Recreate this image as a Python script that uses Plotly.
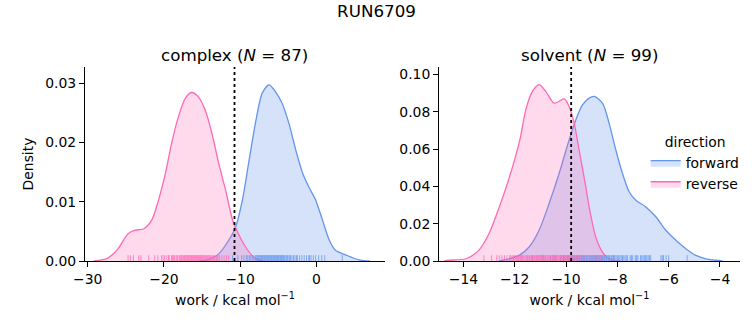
import plotly.graph_objects as go

# ---------------- data ----------------
# KDE curves (x in kcal/mol, density)
complex_fwd_x = [-15.4, -14.6, -13.7, -12.8, -11.5, -10.6, -9.7, -8.9, -8.0, -7.1, -6.2, -5.4, -4.5,
                 -3.6, -2.7, -1.8, -1.0, -0.1, 0.8, 1.7, 2.5, 3.9, 5.6, 7.0]
complex_fwd_y = [0.0, 0.0001, 0.0005, 0.0012, 0.0035, 0.0057, 0.0103, 0.0164, 0.0232, 0.0283, 0.0297,
                 0.0286, 0.0266, 0.0232, 0.0187, 0.0148, 0.0125, 0.0103, 0.0069, 0.0035, 0.0018,
                 0.0010, 0.0002, 0.0]
complex_rev_x = [-29.2, -28.5, -27.5, -26.8, -26.0, -24.7, -23.8, -22.7, -21.6, -20.7, -19.8, -19.0,
                 -18.1, -17.2, -16.4, -15.5, -14.6, -13.7, -12.8, -11.9, -11.0, -10.6, -9.3, -8.0, -7.0]
complex_rev_y = [0.0, 0.0001, 0.0004, 0.0010, 0.0021, 0.0046, 0.0052, 0.0054, 0.0069, 0.0103, 0.0148,
                 0.0198, 0.0243, 0.0274, 0.0284, 0.0277, 0.0255, 0.0215, 0.0164, 0.0119, 0.0069,
                 0.0056, 0.0024, 0.0004, 0.0]
solvent_fwd_x = [-12.6, -12.35, -11.83, -11.44, -11.05, -10.66, -10.27, -9.88, -9.62, -9.36, -9.1,
                 -8.9, -8.58, -8.32, -8.06, -7.8, -7.54, -7.28, -6.89, -6.5, -6.11, -5.72, -5.33,
                 -4.94, -4.55, -4.16, -3.9]
solvent_fwd_y = [0.0, 0.0007, 0.003, 0.0075, 0.0165, 0.0308, 0.0469, 0.0649, 0.0756, 0.0837, 0.0873,
                 0.0882, 0.0846, 0.0738, 0.0595, 0.0469, 0.0371, 0.0326, 0.029, 0.0237, 0.0165,
                 0.0111, 0.0066, 0.003, 0.0012, 0.0004, 0.0]
solvent_rev_x = [-14.75, -14.56, -13.9, -13.4, -13.0, -12.6, -12.2, -11.8, -11.57, -11.31, -11.05,
                 -10.79, -10.46, -10.07, -9.88, -9.68, -9.49, -9.23, -9.1, -8.84, -8.58, -8.32, -7.9]
solvent_rev_y = [0.0, 0.0004, 0.0012, 0.0057, 0.0147, 0.029, 0.0452, 0.0649, 0.081, 0.0909, 0.0945,
                 0.0909, 0.0846, 0.0869, 0.0828, 0.0738, 0.0595, 0.0398, 0.029, 0.0129, 0.0048,
                 0.0012, 0.0]

# individual work values (rug)
complex_rev_work = [-24.7, -24.4, -24.0, -23.3, -23.0, -22.0, -21.2, -20.8, -20.3, -20.1, -19.9, -19.6,
                    -19.4, -19.3, -19.0, -18.9, -18.8, -18.7, -18.6, -18.4, -18.3, -18.2, -18.0, -17.9,
                    -17.8, -17.7, -17.6, -17.5, -17.4, -17.3, -17.25, -17.2, -17.1, -17.0, -16.9,
                    -16.85, -16.8, -16.7, -16.6, -16.55, -16.5, -16.4, -16.35, -16.3, -16.2, -16.15,
                    -16.1, -16.0, -15.95, -15.9, -15.8, -15.75, -15.7, -15.6, -15.5, -15.45, -15.4,
                    -15.3, -15.25, -15.2, -15.1, -15.05, -15.0, -14.9, -14.8, -14.7, -14.6, -14.5,
                    -14.4, -14.3, -14.2, -14.1, -14.0, -13.9, -13.8, -13.6, -13.5, -13.4, -13.2,
                    -13.1, -13.0, -12.9, -12.7, -12.4, -12.1, -11.8, -11.5]
complex_fwd_work = [-11.0, -10.3, -9.8, -9.5, -9.2, -9.0, -8.8, -8.6, -8.4, -8.2, -8.0, -7.9, -7.8,
                    -7.7, -7.65, -7.6, -7.5, -7.4, -7.35, -7.3, -7.2, -7.1, -7.05, -7.0, -6.9, -6.8,
                    -6.75, -6.7, -6.6, -6.5, -6.45, -6.4, -6.3, -6.25, -6.2, -6.1, -6.05, -6.0, -5.9,
                    -5.85, -5.8, -5.7, -5.65, -5.6, -5.5, -5.45, -5.4, -5.3, -5.25, -5.2, -5.1, -5.0,
                    -4.95, -4.9, -4.8, -4.7, -4.65, -4.6, -4.5, -4.4, -4.35, -4.3, -4.2, -4.0, -3.9,
                    -3.8, -3.6, -3.5, -3.4, -3.2, -3.0, -2.8, -2.6, -2.5, -2.2, -1.9, -1.6, -1.3,
                    -1.0, -0.9, -0.7, -0.4, -0.1, 0.3, 0.7, 1.1, 3.4]
solvent_rev_work = [-13.2, -12.9, -12.7, -12.6, -12.5, -12.4, -12.3, -12.2, -12.15, -12.1, -12.05,
                    -12.0, -11.95, -11.92, -11.9, -11.85, -11.8, -11.78, -11.75, -11.72, -11.7,
                    -11.65, -11.6, -11.55, -11.52, -11.5, -11.45, -11.42, -11.4, -11.35, -11.32,
                    -11.3, -11.25, -11.22, -11.2, -11.15, -11.12, -11.1, -11.08, -11.05, -11.02,
                    -11.0, -10.98, -10.95, -10.92, -10.9, -10.88, -10.85, -10.82, -10.8, -10.75,
                    -10.72, -10.7, -10.65, -10.62, -10.6, -10.55, -10.52, -10.5, -10.45, -10.42,
                    -10.4, -10.38, -10.35, -10.32, -10.3, -10.25, -10.22, -10.2, -10.18, -10.15,
                    -10.12, -10.1, -10.08, -10.05, -10.02, -10.0, -9.97, -9.95, -9.93, -9.9, -9.88,
                    -9.85, -9.82, -9.8, -9.75, -9.72, -9.7, -9.65, -9.6, -9.55, -9.5, -9.45, -9.4,
                    -9.3, -9.15, -9.0, -8.8, -8.65]
solvent_fwd_work = [-11.3, -10.9, -10.6, -10.5, -10.4, -10.2, -10.1, -10.05, -9.95, -9.9, -9.85,
                    -9.78, -9.75, -9.7, -9.68, -9.65, -9.6, -9.58, -9.55, -9.5, -9.48, -9.45, -9.4,
                    -9.38, -9.35, -9.32, -9.3, -9.28, -9.25, -9.2, -9.18, -9.15, -9.1, -9.08, -9.05,
                    -9.0, -8.98, -8.95, -8.92, -8.9, -8.88, -8.85, -8.82, -8.8, -8.78, -8.75, -8.72,
                    -8.7, -8.68, -8.65, -8.62, -8.6, -8.58, -8.55, -8.52, -8.5, -8.45, -8.42, -8.4,
                    -8.35, -8.32, -8.3, -8.25, -8.22, -8.2, -8.15, -8.12, -8.1, -8.05, -8.0, -7.95,
                    -7.9, -7.85, -7.8, -7.75, -7.7, -7.65, -7.6, -7.5, -7.45, -7.4, -7.3, -7.25,
                    -7.2, -7.1, -7.05, -7.0, -6.95, -6.9, -6.85, -6.8, -6.75, -6.7, -6.3, -6.25,
                    -6.2, -6.1, -6.0, -5.28]

# mean-work dotted lines
complex_mark = -10.74
solvent_mark = -9.80

# axis ticks
left_xticks = [-30, -20, -10, 0]
right_xticks = [-14, -12, -10, -8, -6, -4]
left_yticks = [0.00, 0.01, 0.02, 0.03]
right_yticks = [0.00, 0.02, 0.04, 0.06, 0.08, 0.10]

left_xrange = [-30.35, 9.0]
right_xrange = [-14.95, -3.22]
left_yrange = [0, 0.0327]
right_yrange = [0, 0.104]

# ---------------- styling ----------------
BLUE = "#6495ED"
PINK = "#FF69B4"
BLUE_FILL = "rgba(100,149,237,0.27)"
PINK_FILL = "rgba(255,105,180,0.25)"
FONT = "DejaVu Sans"
FS = 13.9


def tick_text(v, fmt):
    s = fmt.format(v)
    return s.replace("-", "\u2212")


fig = go.Figure()


def add_kde(x, y, color, fill, name, xa, ya, show):
    fig.add_trace(go.Scatter(
        x=x, y=y, mode="lines", line=dict(color=color, width=1.3, shape="spline", smoothing=0.8),
        fill="tozeroy", fillcolor=fill, name=name, legendgroup=name, showlegend=show,
        xaxis=xa, yaxis=ya, hoverinfo="skip"))


def add_rug(vals, color, xa, ya, yr):
    h = 0.03 * (yr[1] - yr[0])
    xs, ys = [], []
    for v in vals:
        xs += [v, v, None]
        ys += [0, h, None]
    fig.add_trace(go.Scatter(x=xs, y=ys, mode="lines", line=dict(color=color, width=1),
                             opacity=0.75, showlegend=False, xaxis=xa, yaxis=ya, hoverinfo="skip"))


add_kde(complex_fwd_x, complex_fwd_y, BLUE, BLUE_FILL, "forward", "x", "y", True)
add_kde(complex_rev_x, complex_rev_y, PINK, PINK_FILL, "reverse", "x", "y", True)
add_rug(complex_fwd_work, BLUE, "x", "y", left_yrange)
add_rug(complex_rev_work, PINK, "x", "y", left_yrange)

add_kde(solvent_fwd_x, solvent_fwd_y, BLUE, BLUE_FILL, "forward", "x2", "y2", False)
add_kde(solvent_rev_x, solvent_rev_y, PINK, PINK_FILL, "reverse", "x2", "y2", False)
add_rug(solvent_fwd_work, BLUE, "x2", "y2", right_yrange)
add_rug(solvent_rev_work, PINK, "x2", "y2", right_yrange)

for xref, yref, xv in [("x", "y domain", complex_mark), ("x2", "y2 domain", solvent_mark)]:
    fig.add_shape(type="line", xref=xref, yref=yref, x0=xv, x1=xv, y0=0, y1=1,
                  line=dict(color="black", width=1.8, dash="dot"))

axis_common = dict(showline=True, linecolor="black", linewidth=1, ticks="outside", ticklen=5,
                   tickwidth=1, tickcolor="black", showgrid=False, zeroline=False,
                   tickfont=dict(family=FONT, size=FS, color="black"))

xtitle = dict(text="work / kcal mol<sup>\u22121</sup>", font=dict(family=FONT, size=FS, color="black"),
              standoff=9)

fig.update_layout(
    width=753, height=325,
    margin=dict(l=85, r=13, t=67, b=64, autoexpand=False),
    paper_bgcolor="white", plot_bgcolor="white",
    font=dict(family=FONT, size=FS, color="black"),
    xaxis=dict(domain=[0, 0.458], range=left_xrange, tickvals=left_xticks,
               ticktext=[tick_text(v, "{:d}") for v in left_xticks], title=xtitle, **axis_common),
    yaxis=dict(domain=[0, 1], range=left_yrange, tickvals=left_yticks,
               ticktext=[tick_text(v, "{:.2f}") for v in left_yticks],
               title=dict(text="Density", font=dict(family=FONT, size=FS, color="black"), standoff=8),
               **axis_common),
    xaxis2=dict(domain=[0.5405, 1], range=right_xrange, tickvals=right_xticks, anchor="y2",
                ticktext=[tick_text(v, "{:d}") for v in right_xticks], title=xtitle, **axis_common),
    yaxis2=dict(domain=[0, 1], range=right_yrange, tickvals=right_yticks, anchor="x2",
                ticktext=[tick_text(v, "{:.2f}") for v in right_yticks], **axis_common),
    title=dict(text="RUN6709", x=0.5, xanchor="center", y=0.985, yanchor="top",
               font=dict(family=FONT, size=16.7, color="black")),
    legend=dict(x=0.856, xanchor="left", y=0.68, yanchor="top",
                title=dict(text="direction", side="top center", font=dict(family=FONT, size=FS)),
                font=dict(family=FONT, size=FS, color="black"), bgcolor="rgba(0,0,0,0)",
                itemwidth=30, tracegroupgap=0),
    showlegend=True,
)
fig.update_layout(title_xref="container")

for xc, txt in [(0.229, "complex (<i>N</i> = 87)"), (0.770, "solvent (<i>N</i> = 99)")]:
    fig.add_annotation(x=xc, y=1, xref="paper", yref="paper", xanchor="center", yanchor="bottom",
                       yshift=0, showarrow=False, text=txt,
                       font=dict(family=FONT, size=16.7, color="black"))

fig.write_html("out.html")
